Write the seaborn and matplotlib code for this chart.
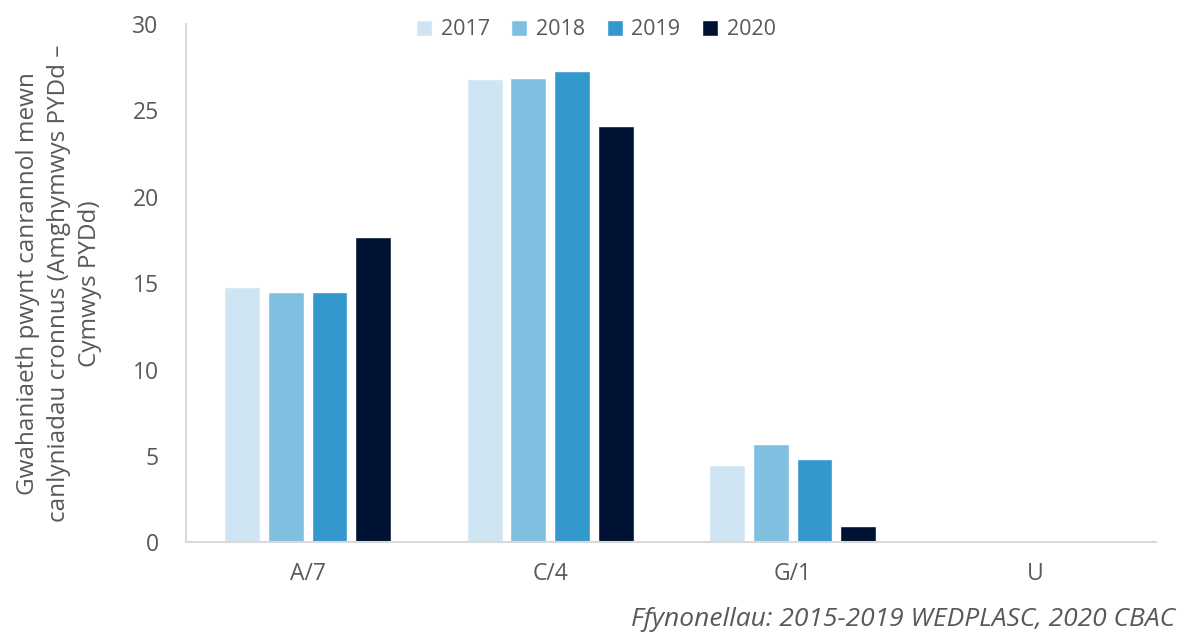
import pandas as pd
import matplotlib.pyplot as plt
import seaborn as sns

# Data
grades = ['A/7', 'C/4', 'G/1', 'U']
years = ['2017', '2018', '2019', '2020']
vals_2017 = [14.8, 26.8, 4.5, 0]
vals_2018 = [14.5, 26.9, 5.7, 0]
vals_2019 = [14.5, 27.3, 4.8, 0]
vals_2020 = [17.7, 24.1, 0.95, 0]
colors = ['#CFE5F3', '#7FBFE0', '#3399CC', '#001233']

df = pd.DataFrame({'Grade': grades * 4,
                   'Year': [y for y in years for _ in grades],
                   'Value': vals_2017 + vals_2018 + vals_2019 + vals_2020})

sns.set_style('white')
plt.rcParams['font.family'] = ['Open Sans', 'DejaVu Sans']
grey = '#595959'

fig = plt.figure(figsize=(11.8, 6.35), dpi=100)
ax = fig.add_axes([0.158, 0.146, 0.822, 0.816])

sns.barplot(data=df, x='Grade', y='Value', hue='Year', palette=colors,
            width=0.72, gap=0.18, ax=ax, saturation=1, legend=True)

ax.set_ylim(0, 30)
ax.set_yticks(range(0, 31, 5))
ax.set_xlim(-0.5, 3.5)
ax.tick_params(axis='both', length=0, labelsize=16.5, colors=grey)
ax.tick_params(axis='y', pad=20)
ax.tick_params(axis='x', pad=14)
ax.set_xlabel('')
ax.set_ylabel('Gwahaniaeth pwynt canrannol mewn\ncanlyniadau cronnus (Amghymwys PYDd –\nCymwys PYDd)',
              fontsize=17.5, color=grey, labelpad=22, linespacing=1.38)
for s in ['top', 'right']:
    ax.spines[s].set_visible(False)
for s in ['left', 'bottom']:
    ax.spines[s].set_color('#D9D9D9')
    ax.spines[s].set_linewidth(1.5)

ax.legend(loc='upper center', bbox_to_anchor=(0.505, 1.0), bbox_transform=fig.transFigure,
          ncol=4, frameon=False, fontsize=15.5, labelcolor=grey,
          handlelength=0.75, handleheight=0.75, handletextpad=0.4, columnspacing=1.0)

fig.text(0.996, 0.004, 'Ffynonellau: 2015-2019 WEDPLASC, 2020 CBAC', ha='right', va='bottom',
         fontsize=19, style='italic', color=grey)

fig.savefig('out.png', dpi=100)
